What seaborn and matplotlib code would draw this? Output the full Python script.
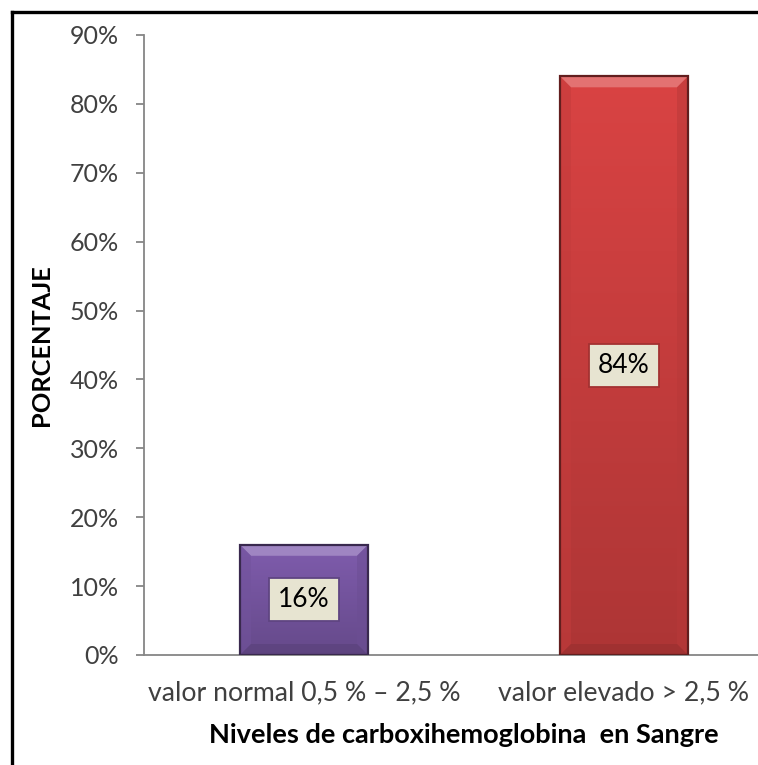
import numpy as np
import pandas as pd
import matplotlib
matplotlib.use("Agg")
import matplotlib.pyplot as plt
import seaborn as sns
from matplotlib.colors import to_rgb
from matplotlib.patches import Polygon
from matplotlib.lines import Line2D

# Data
categories = ["valor normal 0,5 % – 2,5 %", "valor elevado > 2,5 %"]
percentages = [16, 84]
bar_colors = ["#7F5CAD", "#D94343"]
y_ticks = [0, 10, 20, 30, 40, 50, 60, 70, 80, 90]
y_tick_labels = [f"{v}%" for v in y_ticks]
x_title = "Niveles de carboxihemoglobina  en Sangre"
y_title = "PORCENTAJE"

sns.set_theme(style="white")
plt.rcParams["font.family"] = ["Lato", "DejaVu Sans"]

W, H = 758, 765
fig = plt.figure(figsize=(W / 100, H / 100), dpi=100)
fig.patch.set_facecolor("white")
ax = fig.add_axes([144 / W, 110 / H, 640 / W, 620 / H])

df = pd.DataFrame({"nivel": categories, "pct": percentages})
sns.barplot(data=df, x="nivel", y="pct", hue="nivel", palette=bar_colors,
            width=0.4, saturation=1, legend=False, ax=ax)

ax.set_xlim(-0.5, 1.5)
ax.set_ylim(0, 90)
ax.set_yticks(y_ticks)
ax.set_yticklabels(y_tick_labels)

grey = "#868686"
text_col = "#404040"
for side in ("top", "right"):
    ax.spines[side].set_visible(False)
for side in ("left", "bottom"):
    ax.spines[side].set_color(grey)
    ax.spines[side].set_linewidth(1.3)
ax.tick_params(axis="y", which="major", left=True, length=6, width=1.3,
               color=grey, pad=12, labelsize=18, labelcolor=text_col)
ax.tick_params(axis="x", which="major", bottom=False, length=0, pad=18,
               labelsize=19.2, labelcolor=text_col)
ax.grid(False)

ax.set_xlabel(x_title, fontsize=19.5, fontweight="bold", color="black")
ax.set_ylabel(y_title, fontsize=18.3, fontweight="bold", color="black")
ax.xaxis.set_label_coords(0.5, -0.11)
ax.yaxis.set_label_coords(-0.142, 0.5)

# Shaded, bevelled look for each bar
fig.canvas.draw()
inv = ax.transData.inverted()
px_x = inv.transform((10, 0))[0] - inv.transform((0, 0))[0]
px_y = inv.transform((0, 10))[1] - inv.transform((0, 0))[1]


def shade(c, f):
    return tuple(np.clip(np.array(to_rgb(c)) * f, 0, 1))


def tint(c, f):
    c = np.array(to_rgb(c))
    return tuple(c + (1 - c) * f)


for patch, color in zip(ax.patches, bar_colors):
    x0, y0 = patch.get_x(), patch.get_y()
    w, h = patch.get_width(), patch.get_height()
    top_c = np.array(to_rgb(color))
    bot_c = np.array(shade(color, 0.80))
    n = 64
    t = np.linspace(0, 1, n)[:, None]
    grad = (top_c * (1 - t) + bot_c * t)[:, None, :]
    grad = np.repeat(grad, 8, axis=1)
    img = ax.imshow(grad, extent=[x0, x0 + w, y0, y0 + h], origin="upper",
                    aspect="auto", zorder=2, interpolation="bilinear")
    img.set_clip_path(patch)

    b = 1.1
    bx, by = px_x * b, px_y * b
    xl, xr, yb, yt = x0, x0 + w, y0, y0 + h
    ax.add_patch(Polygon([(xl, yt), (xr, yt), (xr - bx, yt - by), (xl + bx, yt - by)],
                         closed=True, fc=tint(color, 0.25), ec="none", zorder=3))
    ax.add_patch(Polygon([(xl, yt), (xl + bx, yt - by), (xl + bx, yb + by), (xl, yb)],
                         closed=True, fc=shade(color, 0.90), ec="none", zorder=3, alpha=0.5))
    ax.add_patch(Polygon([(xr, yt), (xr - bx, yt - by), (xr - bx, yb + by), (xr, yb)],
                         closed=True, fc=shade(color, 0.85), ec="none", zorder=3, alpha=0.5))
    ax.add_patch(Polygon([(xl, yb), (xl + bx, yb + by), (xr - bx, yb + by), (xr, yb)],
                         closed=True, fc=shade(color, 0.70), ec="none", zorder=3, alpha=0.6))
    patch.set_facecolor("none")
    patch.set_edgecolor(shade(color, 0.45))
    patch.set_linewidth(1.6)
    patch.set_zorder(4)

    ax.text(x0 + w / 2, y0 + h / 2, f"{h:.0f}%", ha="center", va="center",
            fontsize=19, color="black", zorder=5,
            bbox=dict(boxstyle="square,pad=0.34", fc="#E7E4D1",
                      ec=shade(color, 0.75), lw=1.3))

ax.set_xlim(-0.5, 1.5)
ax.set_ylim(0, 90)

# Outer frame (top and left edges)
fig.add_artist(Line2D([12 / W, 12 / W], [0, 1 - 12 / H], transform=fig.transFigure,
                      color="black", lw=2.4, solid_capstyle="projecting"))
fig.add_artist(Line2D([12 / W, 1], [1 - 12 / H, 1 - 12 / H], transform=fig.transFigure,
                      color="black", lw=2.4, solid_capstyle="projecting"))

fig.savefig("out.png", dpi=100, facecolor="white")
